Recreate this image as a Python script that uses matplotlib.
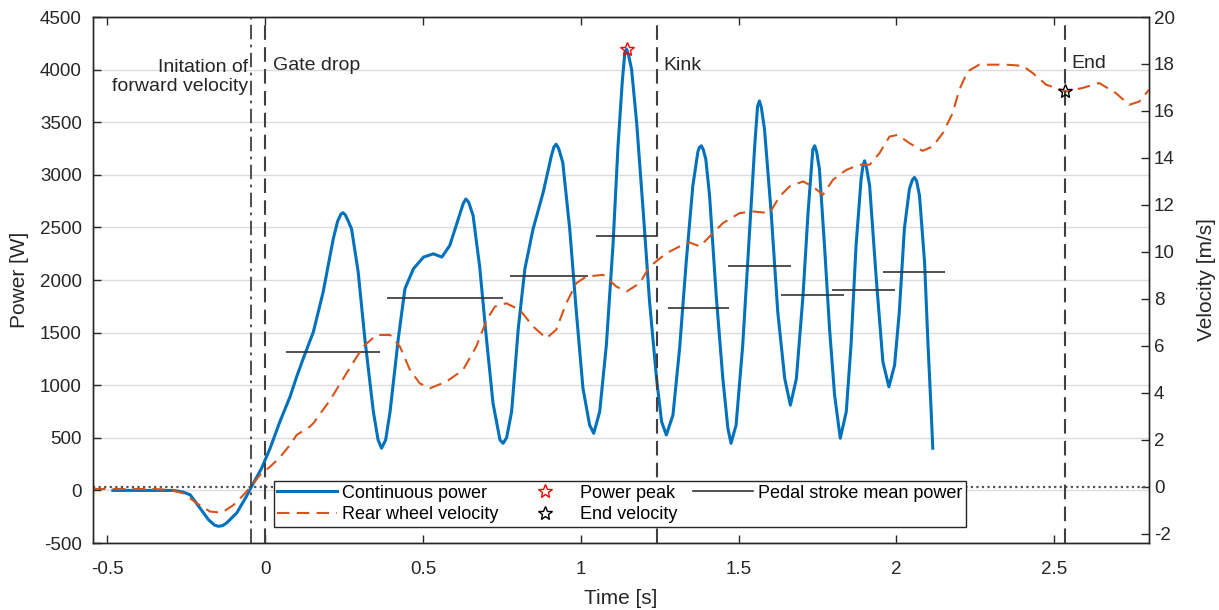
import numpy as np
import matplotlib
matplotlib.use("Agg")
import matplotlib.pyplot as plt
from matplotlib.lines import Line2D

plt.rcParams['font.family'] = ['Liberation Sans', 'DejaVu Sans']
plt.rcParams['axes.unicode_minus'] = False

# continuous power [W] vs time [s]
p_time = [-0.482, -0.40, -0.33, -0.29, -0.26, -0.237, -0.206, -0.179, -0.160, -0.148, -0.135, -0.122,
          -0.090, -0.059, -0.037, -0.011, 0.016, 0.047, 0.079, 0.100, 0.121, 0.153,
          0.184, 0.216, 0.230, 0.240, 0.247, 0.254, 0.262, 0.274, 0.295, 0.316, 0.343, 0.358,
          0.369, 0.382, 0.396, 0.422, 0.443, 0.470, 0.502, 0.533, 0.560, 0.585,
          0.612, 0.628, 0.636, 0.645, 0.659, 0.680, 0.701, 0.722, 0.744, 0.754, 0.765, 0.781,
          0.802, 0.823, 0.849, 0.881, 0.907, 0.915, 0.922, 0.930, 0.943, 0.965, 0.986, 1.007,
          1.028, 1.041, 1.060, 1.081, 1.102, 1.118, 1.132, 1.139, 1.145, 1.152, 1.161, 1.177,
          1.198, 1.218, 1.240, 1.256, 1.271, 1.292, 1.313, 1.334, 1.355, 1.371,
          1.376, 1.382, 1.388, 1.396, 1.408, 1.429, 1.450, 1.466, 1.476, 1.492, 1.513, 1.535,
          1.551, 1.560, 1.566, 1.572, 1.582, 1.603, 1.624, 1.646, 1.664, 1.683, 1.704, 1.720,
          1.735, 1.741, 1.747, 1.756, 1.772, 1.788, 1.804, 1.822, 1.841, 1.856, 1.872, 1.888,
          1.894, 1.899, 1.905, 1.915, 1.936, 1.957, 1.976, 1.994, 2.009, 2.025, 2.041, 2.050,
          2.057, 2.064, 2.073, 2.089, 2.100, 2.110, 2.115]
power = [0, 0, 0, 0, -15, -42, -168, -279, -330, -341, -335, -310,
         -215, -57, 69, 211, 401, 654, 890, 1080, 1254, 1507,
         1886, 2391, 2560, 2625, 2640, 2620, 2570, 2486, 2075, 1443, 749, 480,
         401, 480, 749, 1443, 1917, 2107, 2218, 2249, 2218, 2328,
         2581, 2730, 2770, 2740, 2612, 2120, 1450, 830, 480, 448, 500, 749,
         1538, 2107, 2486, 2834, 3181, 3265, 3291, 3250, 3117, 2486, 1696, 970,
         622, 543, 749, 1380, 2328, 3276, 3907, 4140, 4195, 4130, 4002, 3497,
         2644, 1791, 1064, 654, 527, 716, 1348, 2170, 2896, 3220,
         3262, 3276, 3240, 3150, 2801, 1854, 1064, 590, 448, 622, 1380, 2486,
         3276, 3650, 3702, 3640, 3434, 2644, 1696, 1064, 811, 1064, 1854, 2644,
         3240, 3276, 3220, 3054, 2328, 1538, 906, 496, 749, 1380, 2328, 2960,
         3090, 3133, 3070, 2896, 2012, 1222, 985, 1190, 1696, 2486, 2865, 2950,
         2975, 2940, 2801, 2170, 1380, 749, 401]

# rear wheel velocity [m/s] vs time [s]
v_time = [-0.545, -0.45, -0.35, -0.30, -0.259, -0.216, -0.174, -0.137, -0.100, -0.068,
          -0.041, -0.016, 0.016, 0.047, 0.079, 0.100, 0.142, 0.153, 0.206, 0.258,
          0.311, 0.353, 0.396, 0.427, 0.459, 0.490, 0.522, 0.574, 0.627, 0.669,
          0.702, 0.728, 0.764, 0.807, 0.849, 0.891, 0.922, 0.954, 0.986, 1.018,
          1.071, 1.113, 1.145, 1.187, 1.218, 1.271, 1.313, 1.345, 1.377, 1.408,
          1.450, 1.503, 1.546, 1.598, 1.630, 1.661, 1.704, 1.735, 1.767, 1.799,
          1.841, 1.883, 1.915, 1.946, 1.978, 2.004, 2.041, 2.083, 2.115, 2.147,
          2.178, 2.199, 2.225, 2.262, 2.347, 2.400, 2.432, 2.474, 2.537, 2.590,
          2.642, 2.695, 2.737, 2.769, 2.800]
velocity = [-0.1, -0.1, -0.1, -0.14, -0.28, -0.71, -1.06, -1.11, -0.78, -0.35,
            0.07, 0.5, 0.85, 1.25, 1.78, 2.2, 2.56, 2.70, 3.69, 4.83,
            5.97, 6.46, 6.46, 5.97, 4.97, 4.40, 4.19, 4.47, 4.97, 5.97,
            7.10, 7.67, 7.81, 7.53, 6.82, 6.32, 6.68, 7.81, 8.67, 8.95,
            9.02, 8.52, 8.31, 8.67, 9.37, 9.94, 10.23, 10.40, 10.23, 10.65,
            11.22, 11.65, 11.72, 11.65, 12.36, 12.78, 13.0, 12.78, 12.43, 13.07,
            13.49, 13.71, 13.71, 14.2, 14.91, 14.98, 14.63, 14.3, 14.49, 15.06,
            15.91, 16.9, 17.68, 17.97, 17.97, 17.92, 17.61, 17.12, 16.83, 16.98,
            17.19, 16.76, 16.26, 16.4, 16.9]

# pedal stroke mean power
stroke_start = [0.066, 0.386, 0.775, 1.047, 1.275, 1.465, 1.633, 1.797, 1.956]
stroke_end = [0.364, 0.753, 1.022, 1.243, 1.470, 1.665, 1.835, 1.994, 2.155]
stroke_mean = [1320, 1832, 2037, 2416, 1737, 2138, 1854, 1901, 2072]

# events
t_init = -0.044
t_gate = 0.0
t_kink = 1.243
t_end = 2.535
end_velocity = 16.83

blue = '#0072BD'
orange = '#D95319'
dark = '#262626'
vline_col = '#404040'

fig = plt.figure(figsize=(12.19, 6.10), dpi=100)
ax = fig.add_axes([0.0763, 0.1098, 0.8663, 0.8623])
ax2 = ax.twinx()

ax.set_xlim(-0.545, 2.8)
ax.set_ylim(-500, 4500)
ax2.set_ylim(-2.4, 20)

ax.yaxis.grid(True, color='#dcdcdc', lw=1.0)
ax.set_axisbelow(True)

ax.plot(p_time, power, color=blue, lw=2.2, zorder=3)
ax.hlines(stroke_mean, stroke_start, stroke_end, color='#333333', lw=1.2, zorder=4)
i_pk = int(np.argmax(power))
ax.plot(p_time[i_pk], power[i_pk], marker='*', ms=10, mfc='none', mec='red',
        mew=1.0, ls='none', zorder=5)

ax2.plot(v_time, velocity, color=orange, lw=1.5, dashes=(6, 3.5))
ax2.axhline(0, color='#555555', lw=1.6, ls=(0, (1, 1.5)))
ax2.plot(t_end, end_velocity, marker='*', ms=10, mfc='none', mec='black',
         mew=1.0, ls='none', zorder=5)

ax2.axvline(t_init, color=vline_col, lw=1.3, ls=(0, (8, 3, 1.5, 3)))
for tv in [t_gate, t_kink, t_end]:
    ax2.axvline(tv, color=vline_col, lw=1.5, ls=(0, (7, 3.5)))

ax.text(t_init - 0.01, 3930, 'Initation of\nforward velocity', ha='right', va='center',
        fontsize=14, color=dark, linespacing=1.15)
ax.text(t_gate + 0.025, 4040, 'Gate drop', ha='left', va='center', fontsize=14, color=dark)
ax.text(t_kink + 0.018, 4040, 'Kink', ha='left', va='center', fontsize=14, color=dark)
ax.text(t_end + 0.018, 4055, 'End', ha='left', va='center', fontsize=14, color=dark)

ax.set_xticks([-0.5, 0, 0.5, 1, 1.5, 2, 2.5])
ax.set_xticklabels(['-0.5', '0', '0.5', '1', '1.5', '2', '2.5'])
ax.set_yticks(np.arange(-500, 4501, 500))
ax2.set_yticks(np.arange(-2, 21, 2))

for a in (ax, ax2):
    a.tick_params(direction='in', length=6, width=1.0, colors=dark, labelsize=13.5,
                  top=True)
    for s in a.spines.values():
        s.set_color(dark)
        s.set_linewidth(1.0)
ax.tick_params(axis='x', pad=13)
ax.tick_params(axis='y', pad=8)

ax.set_xlabel('Time [s]', fontsize=15, color=dark, labelpad=8)
ax.set_ylabel('Power [W]', fontsize=15, color=dark, labelpad=8)
ax2.set_ylabel('Velocity [m/s]', fontsize=15, color=dark, labelpad=16)

handles = [
    Line2D([], [], color=blue, lw=2.2),
    Line2D([], [], color=orange, lw=1.5, dashes=(6, 3.5)),
    Line2D([], [], color='red', marker='*', mfc='none', ms=10, ls='none'),
    Line2D([], [], color='black', marker='*', mfc='none', ms=10, ls='none'),
    Line2D([], [], color='#333333', lw=1.2),
]
labels = ['Continuous power', 'Rear wheel velocity', 'Power peak', 'End velocity',
          'Pedal stroke mean power']
leg = ax2.legend(handles, labels, ncol=3, loc='lower left', bbox_to_anchor=(0.171, 0.031),
                 fontsize=13, frameon=True, fancybox=False, edgecolor=dark,
                 handlelength=3.3, columnspacing=0.9, handletextpad=0.3,
                 borderpad=0.2, labelspacing=0.25, borderaxespad=0)
leg.get_frame().set_linewidth(1.0)
leg.get_frame().set_alpha(1)

fig.savefig('out.png', dpi=100)
